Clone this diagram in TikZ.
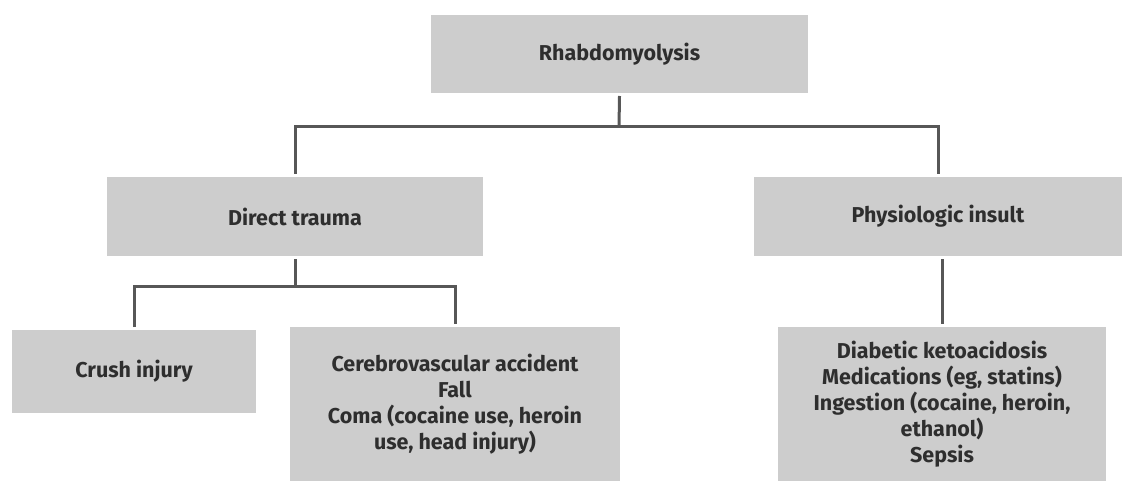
\documentclass[tikz,border=0pt]{standalone}
\usepackage{fontspec}
\setmainfont{Fira Sans}
\begin{document}
\begin{tikzpicture}[x=1pt,y=-1pt,
  box/.style={rectangle, fill=boxgrey, draw=none, text=txtgrey, align=center,
    font=\fontsize{21.5}{26}\selectfont\bfseries, inner sep=0pt, outer sep=3pt},
  conn/.style={draw=linegrey, line width=3pt}]
\definecolor{boxgrey}{HTML}{CDCDCD}
\definecolor{txtgrey}{HTML}{2E2E2E}
\definecolor{linegrey}{HTML}{575757}
\useasboundingbox (0,0) rectangle (1123,481);
\clip (0,0) rectangle (1123,481);
\node[box, minimum width=377pt, minimum height=78pt] (root) at (619.5,54) {Rhabdomyolysis};
\node[box, minimum width=376pt, minimum height=79pt] (dt) at (295,216.5) {Direct trauma};
\node[box, minimum width=368pt, minimum height=79pt] (pi) at (938,216.5) {Physiologic insult};
\node[box, minimum width=244pt, minimum height=83pt] (crush) at (134,371.5) {Crush injury};
\node[box, minimum width=330pt, minimum height=154pt] (cva) at (455,404)
  {Cerebrovascular accident\\Fall\\Coma (cocaine use, heroin\\use, head injury)};
\node[box, minimum width=328pt, minimum height=154pt] (dka) at (942,404)
  {Diabetic ketoacidosis\\Medications (eg, statins)\\Ingestion (cocaine, heroin,\\ethanol)\\Sepsis};
\coordinate (j1) at (619,127);
\coordinate (j2) at (291,286);
\draw[conn] (root.south) -- (j1);
\draw[conn] (dt.north) |- (j1) -| (pi.north);
\draw[conn] (dt.south) -- (dt.south |- j2);
\draw[conn] (crush.north) |- (dt.south |- j2) -| (cva.north);
\draw[conn] (dka.north |- pi.south) -- (dka.north);
\end{tikzpicture}
\end{document}
